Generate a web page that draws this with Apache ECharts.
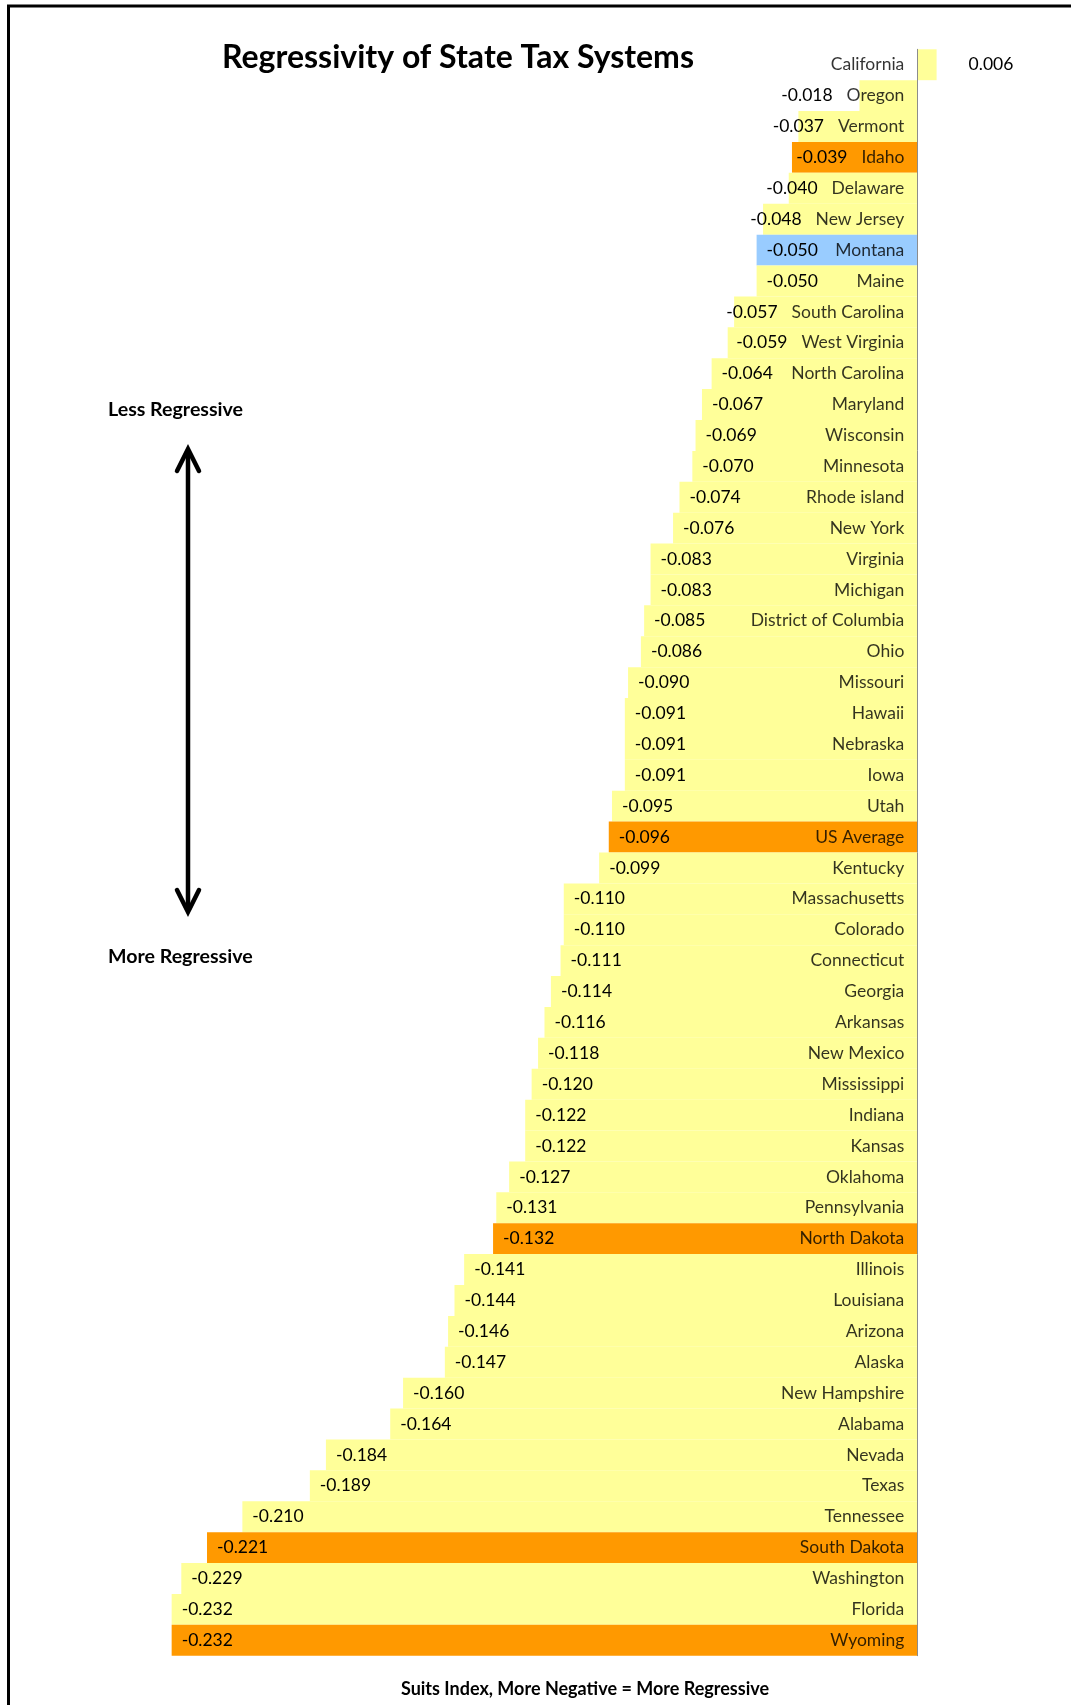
<!DOCTYPE html>
<html>
<head>
<meta charset="utf-8">
<title>Regressivity of State Tax Systems</title>
<script src="https://cdn.jsdelivr.net/npm/echarts@6/dist/echarts.min.js"></script>
<style>
  html, body { margin: 0; padding: 0; background: #fff; }
  #chart { width: 1071px; height: 1705px; }
</style>
</head>
<body>
<div id="chart"></div>
<script>
// Suits index by state, least regressive first
const states = [
  'California', 'Oregon', 'Vermont', 'Idaho', 'Delaware', 'New Jersey', 'Montana', 'Maine',
  'South Carolina', 'West Virginia', 'North Carolina', 'Maryland', 'Wisconsin', 'Minnesota',
  'Rhode island', 'New York', 'Virginia', 'Michigan', 'District of Columbia', 'Ohio', 'Missouri',
  'Hawaii', 'Nebraska', 'Iowa', 'Utah', 'US Average', 'Kentucky', 'Massachusetts', 'Colorado',
  'Connecticut', 'Georgia', 'Arkansas', 'New Mexico', 'Mississippi', 'Indiana', 'Kansas',
  'Oklahoma', 'Pennsylvania', 'North Dakota', 'Illinois', 'Louisiana', 'Arizona', 'Alaska',
  'New Hampshire', 'Alabama', 'Nevada', 'Texas', 'Tennessee', 'South Dakota', 'Washington',
  'Florida', 'Wyoming'
];
const suitsIndex = [
  0.006, -0.018, -0.037, -0.039, -0.040, -0.048, -0.050, -0.050,
  -0.057, -0.059, -0.064, -0.067, -0.069, -0.070,
  -0.074, -0.076, -0.083, -0.083, -0.085, -0.086, -0.090,
  -0.091, -0.091, -0.091, -0.095, -0.096, -0.099, -0.110, -0.110,
  -0.111, -0.114, -0.116, -0.118, -0.120, -0.122, -0.122,
  -0.127, -0.131, -0.132, -0.141, -0.144, -0.146, -0.147,
  -0.160, -0.164, -0.184, -0.189, -0.210, -0.221, -0.229,
  -0.232, -0.232
];
const orangeRows = ['Idaho', 'US Average', 'North Dakota', 'South Dakota', 'Wyoming'];
const blueRows = ['Montana'];

const FONT = 'Lato';
const LABEL_SIZE = 17.5;
const NAME_GAP = 13;
const YELLOW = '#FFFF99';
const ORANGE = '#FF9900';
const BLUE = '#99CCFF';

function barColor(name) {
  if (orangeRows.includes(name)) return ORANGE;
  if (blueRows.includes(name)) return BLUE;
  return YELLOW;
}

const measureCtx = document.createElement('canvas').getContext('2d');
function textWidth(str, size) {
  measureCtx.font = size + 'px ' + FONT;
  return measureCtx.measureText(str).width;
}

const chart = echarts.init(document.getElementById('chart'), null, { renderer: 'canvas' });

function buildData(labelShift) {
  return suitsIndex.map((v, i) => {
    const item = {
      value: v,
      itemStyle: { color: barColor(states[i]) }
    };
    if (v >= 0) {
      item.label = { position: 'right', distance: 32 };
    } else {
      item.label = { position: 'insideLeft', distance: 10, offset: [labelShift ? labelShift[i] : 0, 0] };
    }
    return item;
  });
}

const option = {
  animation: false,
  backgroundColor: '#ffffff',
  textStyle: { fontFamily: FONT },
  grid: { left: 113.8, right: 89.4, top: 49.3, bottom: 49.3, containLabel: false, outerBoundsMode: 'none' },
  xAxis: {
    type: 'value',
    min: -0.25,
    max: 0.02,
    axisLine: { show: false },
    axisTick: { show: false },
    axisLabel: { show: false },
    splitLine: { show: false }
  },
  yAxis: {
    type: 'category',
    inverse: true,
    data: states,
    z: 10,
    axisLine: { onZero: true, lineStyle: { color: '#8c8c8c', width: 1 } },
    axisTick: { inside: true, length: 6, lineStyle: { color: '#8c8c8c' } },
    axisLabel: { show: false }
  },
  series: [{
    type: 'bar',
    barWidth: '100%',
    barCategoryGap: 0,
    data: buildData(null),
    label: {
      show: true,
      fontFamily: FONT,
      fontSize: LABEL_SIZE,
      color: '#000',
      formatter: p => p.value.toFixed(3)
    }
  }, {
    // state names sit just left of the zero line
    type: 'scatter',
    symbolSize: 0,
    itemStyle: { color: 'transparent' },
    z: 5,
    silent: true,
    data: states.map(s => [0, s]),
    label: {
      show: true,
      position: 'left',
      distance: NAME_GAP,
      fontFamily: FONT,
      fontSize: LABEL_SIZE,
      color: '#000',
      formatter: p => p.value[1]
    }
  }],
  graphic: [
    // frame edges
    { type: 'line', shape: { x1: 7, y1: 6, x2: 1071, y2: 6 }, style: { stroke: '#000', lineWidth: 3 } },
    { type: 'line', shape: { x1: 8.5, y1: 5, x2: 8.5, y2: 1705 }, style: { stroke: '#000', lineWidth: 3 } },
    // direction arrow
    { type: 'polyline', shape: { points: [[188, 452], [188, 909]] },
      style: { stroke: '#000', lineWidth: 4.5, fill: null } },
    { type: 'polyline', shape: { points: [[177, 471], [188, 449], [199, 471]] },
      style: { stroke: '#000', lineWidth: 4.5, fill: null, lineCap: 'round', lineJoin: 'miter' } },
    { type: 'polyline', shape: { points: [[177, 890], [188, 912], [199, 890]] },
      style: { stroke: '#000', lineWidth: 4.5, fill: null, lineCap: 'round', lineJoin: 'miter' } },
    { type: 'text', x: 222, y: 58,
      style: { text: 'Regressivity of State Tax Systems', font: 'bold 32px ' + FONT, fill: '#000',
               textVerticalAlign: 'middle' } },
    { type: 'text', x: 108, y: 410,
      style: { text: 'Less Regressive', font: 'bold 19.6px ' + FONT, fill: '#000', textVerticalAlign: 'middle' } },
    { type: 'text', x: 108, y: 957,
      style: { text: 'More Regressive', font: 'bold 19.6px ' + FONT, fill: '#000', textVerticalAlign: 'middle' } },
    { type: 'text', x: 585, y: 1689,
      style: { text: 'Suits Index, More Negative = More Regressive', font: 'bold 18px ' + FONT, fill: '#000',
               textAlign: 'center', textVerticalAlign: 'middle' } }
  ]
};

chart.setOption(option);

// Pull value labels of short bars left so they clear the state name
const zeroX = chart.convertToPixel({ xAxisIndex: 0 }, 0);
const shifts = suitsIndex.map((v, i) => {
  if (v >= 0) return 0;
  const barLeft = chart.convertToPixel({ xAxisIndex: 0 }, v);
  const nameLeft = zeroX - NAME_GAP - textWidth(states[i], LABEL_SIZE);
  const labelW = textWidth(v.toFixed(3), LABEL_SIZE);
  const wanted = barLeft + 10;
  const limit = nameLeft - 14 - labelW;
  return Math.min(0, limit - wanted);
});
chart.setOption({ series: [{ data: buildData(shifts) }] });
</script>
</body>
</html>
